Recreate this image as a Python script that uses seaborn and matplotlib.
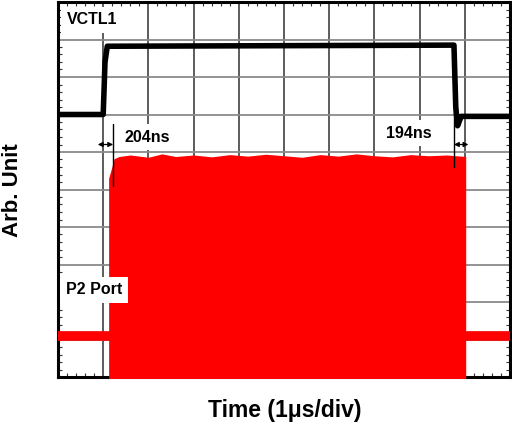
import numpy as np
import pandas as pd
import matplotlib
matplotlib.use("Agg")
import matplotlib.pyplot as plt
from matplotlib.ticker import AutoMinorLocator, MultipleLocator
import seaborn as sns

# ---- data (time in divisions of 1 us, amplitude in screen divisions) ----
vctl_t = [0.0, 1.00, 1.04, 1.09, 8.76, 8.80, 8.84, 8.92, 10.0]
vctl_v = [7.00, 7.00, 8.40, 8.82, 8.85, 7.20, 6.70, 6.95, 6.95]

p2_base_pre_t = [0.0, 1.12]
p2_base_pre_v = [1.10, 1.10]
p2_base_post_t = [9.02, 10.0]
p2_base_post_v = [1.10, 1.10]

p2_env_t = [1.12, 1.18, 1.24, 1.35, 1.6, 2.0, 2.3, 2.6, 3.0, 3.4, 3.8, 4.2, 4.6,
            5.0, 5.4, 5.8, 6.2, 6.6, 7.0, 7.4, 7.8, 8.2, 8.6, 9.02]
p2_env_v = [5.30, 5.55, 5.82, 5.88, 5.92, 5.86, 5.95, 5.88, 5.92, 5.87, 5.93, 5.89, 5.94,
            5.90, 5.86, 5.93, 5.89, 5.95, 5.90, 5.87, 5.93, 5.90, 5.92, 5.88]

labels = {"vctl": "VCTL1", "p2": "P2 Port", "rise": "204ns", "fall": "194ns"}
xlabel = "Time (1\u03bcs/div)"
ylabel = "Arb. Unit"

# ---- figure ----
sns.set_theme(style="white")
plt.rcParams["font.family"] = ["Liberation Sans", "DejaVu Sans"]
plt.rcParams["font.weight"] = "bold"
plt.rcParams["text.color"] = "black"

fig = plt.figure(figsize=(5.12, 4.28), dpi=100)
ax = fig.add_axes([58 / 512, 51 / 428, 452 / 512, 375 / 428])
ax.set_xlim(0, 10)
ax.set_ylim(0, 10)

ax.xaxis.set_major_locator(MultipleLocator(1))
ax.yaxis.set_major_locator(MultipleLocator(1))
ax.xaxis.set_minor_locator(AutoMinorLocator(5))
ax.yaxis.set_minor_locator(AutoMinorLocator(5))
ax.tick_params(which="major", length=0, labelbottom=False, labelleft=False)
ax.tick_params(which="minor", direction="in", length=3, width=0.8, color="#333333",
               top=True, bottom=True, left=True, right=True)
ax.grid(False)
for xv in range(1, 10):
    ax.axvline(xv, color="#303030", lw=1.1, zorder=1)
for yv in range(1, 10):
    ax.axhline(yv, color="#8a8a8a", lw=1.3, zorder=1)
for s in ax.spines.values():
    s.set_linewidth(2.2)
    s.set_color("black")
    s.set_zorder(2.5)

# VCTL1 trace
df_v = pd.DataFrame({"t": vctl_t, "v": vctl_v})
sns.lineplot(data=df_v, x="t", y="v", ax=ax, color="black", lw=4.0, sort=False,
             estimator=None, zorder=4)

# P2 port trace: baseline and RF burst envelope
df_pre = pd.DataFrame({"t": p2_base_pre_t, "v": p2_base_pre_v})
df_post = pd.DataFrame({"t": p2_base_post_t, "v": p2_base_post_v})
sns.lineplot(data=df_pre, x="t", y="v", ax=ax, color="#ff0000", lw=7, estimator=None, zorder=3)
sns.lineplot(data=df_post, x="t", y="v", ax=ax, color="#ff0000", lw=7, estimator=None, zorder=3)
ax.fill_between(p2_env_t, -0.04, p2_env_v, color="#ff0000", lw=0, zorder=3, clip_on=False)
ax.set_xlabel("")
ax.set_ylabel("")

# rise / fall markers
ax.plot([1.22, 1.22], [5.1, 6.75], color="black", lw=1.0, zorder=5)
ax.plot([8.76, 8.76], [5.6, 7.8], color="black", lw=1.0, zorder=5)
arr = dict(arrowstyle="<|-|>", lw=0.9, color="black", mutation_scale=7, shrinkA=0, shrinkB=0)
ax.annotate("", xy=(0.88, 6.2), xytext=(1.22, 6.2), arrowprops=arr, zorder=6)
ax.annotate("", xy=(8.76, 6.2), xytext=(9.08, 6.2), arrowprops=arr, zorder=6)

box = dict(boxstyle="square,pad=0.35", facecolor="white", edgecolor="none")
for (x, y, key) in [(0.2, 9.52, "vctl"), (0.17, 2.33, "p2"), (1.47, 6.4, "rise"), (7.26, 6.5, "fall")]:
    ax.text(x, y, labels[key], fontsize=11.5, fontweight="bold", va="center", ha="left",
            bbox=box, zorder=6, color="black")

fig.text(285 / 512, 1 - 410 / 428, xlabel, fontsize=16.5, fontweight="bold",
         ha="center", va="center", color="black")
fig.text(13 / 512, 1 - 190 / 428, ylabel, fontsize=16, fontweight="bold",
         ha="center", va="center", rotation=90, color="black")

fig.savefig("out.png", dpi=100)
